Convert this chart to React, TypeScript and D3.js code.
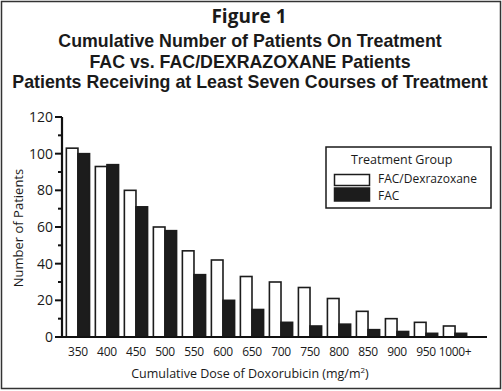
import React, { useEffect, useRef } from 'react';
import * as d3 from 'd3';

// dosis kumulatif (mg/m2)
const doses = ['350', '400', '450', '500', '550', '600', '650', '700', '750', '800', '850', '900', '950', '1000+'];
const facDex = [103, 93, 80, 60, 47, 42, 33, 30, 27, 21, 14, 10, 8, 6];
const fac = [100, 94, 71, 58, 34, 20, 15, 8, 6, 7, 4, 3, 2, 2];
const series = ['FAC/Dexrazoxane', 'FAC'];
const yTicks = [0, 20, 40, 60, 80, 100, 120];
const titleLines = [
    'Cumulative Number of Patients On Treatment',
    'FAC vs. FAC/DEXRAZOXANE Patients',
    'Patients Receiving at Least Seven Courses of Treatment',
];

const FONT = "'Open Sans', 'Noto Sans', sans-serif";
const TITLE_FONT = "'Liberation Sans', Arial, sans-serif";

export default function App() {
    const svgRef = useRef<SVGSVGElement>(null);

    useEffect(() => {
        const width = 502;
        const height = 391;
        const svg = d3.select(svgRef.current);
        svg.html('');

        // bingkai luar
        svg.append('rect')
            .attr('x', 1.5).attr('y', 1.5)
            .attr('width', width - 3).attr('height', height - 4)
            .attr('fill', '#fff')
            .attr('stroke', '#333')
            .attr('stroke-width', 1.5);

        // judul
        svg.append('text')
            .attr('x', 249).attr('y', 23)
            .attr('text-anchor', 'middle')
            .style('font-family', FONT).style('font-weight', 'bold').style('font-size', '19px')
            .attr('fill', '#1a1a1a')
            .text('Figure 1');
        svg.selectAll('text.title')
            .data(titleLines)
            .join('text')
            .attr('class', 'title')
            .attr('x', 250)
            .attr('y', (d, i) => 47 + i * 20.5)
            .attr('text-anchor', 'middle')
            .style('font-family', TITLE_FONT).style('font-weight', 'bold').style('font-size', '17.8px')
            .attr('fill', '#1a1a1a')
            .text(d => d);

        const x0 = d3.scaleBand<string>()
            .domain(doses)
            .range([62, 471])
            .paddingInner(0.2)
            .paddingOuter(0.15);
        const x1 = d3.scaleBand<string>()
            .domain(series)
            .range([0, x0.bandwidth()]);
        const y = d3.scaleLinear().domain([0, 120]).range([337, 117]);

        const rows = doses.map((d, i) => ({ dose: d, values: [facDex[i], fac[i]] }));

        // batang
        const groups = svg.append('g')
            .selectAll('g')
            .data(rows)
            .join('g')
            .attr('transform', d => `translate(${x0(d.dose)},0)`);
        groups.selectAll('rect')
            .data(d => d.values.map((v, k) => ({ key: series[k], v })))
            .join('rect')
            .attr('x', d => x1(d.key)!)
            .attr('y', d => y(d.v))
            .attr('width', x1.bandwidth())
            .attr('height', d => y(0) - y(d.v))
            .attr('fill', d => (d.key === 'FAC' ? '#1c1c1c' : '#fff'))
            .attr('stroke', '#1c1c1c')
            .attr('stroke-width', 1.6);

        // sumbu Y
        const yAxis = svg.append('g').attr('transform', 'translate(62,0)');
        yAxis.append('line')
            .attr('x1', 0).attr('x2', 0)
            .attr('y1', y(0)).attr('y2', y(120))
            .attr('stroke', '#111').attr('stroke-width', 2.2);
        yAxis.selectAll('line.minor')
            .data(d3.range(0, 121, 10))
            .join('line')
            .attr('class', 'minor')
            .attr('x1', d => (d % 20 === 0 ? -7 : -4)).attr('x2', 0)
            .attr('y1', d => y(d)).attr('y2', d => y(d))
            .attr('stroke', '#111').attr('stroke-width', 2);
        yAxis.selectAll('text')
            .data(yTicks)
            .join('text')
            .attr('x', -9)
            .attr('y', d => y(d))
            .attr('dy', '0.35em')
            .attr('text-anchor', 'end')
            .style('font-family', FONT).style('font-size', '14px')
            .attr('fill', '#1a1a1a')
            .text(d => d);

        // sumbu X
        svg.append('line')
            .attr('x1', 57).attr('x2', 487)
            .attr('y1', y(0)).attr('y2', y(0))
            .attr('stroke', '#111').attr('stroke-width', 2.2);
        svg.append('g')
            .selectAll('text')
            .data(doses)
            .join('text')
            .attr('x', d => x0(d)! + x0.bandwidth() / 2)
            .attr('y', 356)
            .attr('text-anchor', 'middle')
            .style('font-family', FONT).style('font-size', '12px')
            .style('letter-spacing', '-0.3px')
            .attr('fill', '#1a1a1a')
            .text(d => d);

        // label sumbu
        const xLabel = svg.append('text')
            .attr('x', 250).attr('y', 378)
            .attr('text-anchor', 'middle')
            .style('font-family', FONT).style('font-size', '12.5px')
            .attr('fill', '#1a1a1a');
        xLabel.append('tspan').text('Cumulative Dose of Doxorubicin (mg/m');
        xLabel.append('tspan').attr('dy', -5).style('font-size', '8px').text('2');
        xLabel.append('tspan').attr('dy', 5).text(')');

        svg.append('text')
            .attr('transform', 'translate(23,228) rotate(-90)')
            .attr('text-anchor', 'middle')
            .style('font-family', FONT).style('font-size', '13px')
            .attr('fill', '#1a1a1a')
            .text('Number of Patients');

        // legenda
        const lg = svg.append('g');
        lg.append('rect')
            .attr('x', 326).attr('y', 147)
            .attr('width', 165).attr('height', 61)
            .attr('fill', '#fff')
            .attr('stroke', '#1a1a1a').attr('stroke-width', 1.5);
        lg.append('text')
            .attr('x', 351).attr('y', 164)
            .style('font-family', FONT).style('font-size', '12.5px')
            .attr('fill', '#1a1a1a')
            .text('Treatment Group');
        series.forEach((s, i) => {
            lg.append('rect')
                .attr('x', 334.5).attr('y', i === 0 ? 174.5 : 188)
                .attr('width', 35).attr('height', i === 0 ? 11 : 13)
                .attr('fill', i === 1 ? '#1c1c1c' : '#fff')
                .attr('stroke', '#1c1c1c').attr('stroke-width', 1.5);
            lg.append('text')
                .attr('x', 378).attr('y', 183 + i * 17)
                .style('font-family', FONT).style('font-size', '12px')
                .attr('fill', '#1a1a1a')
                .text(s);
        });
    }, []);

    return (
        <svg ref={svgRef} width={502} height={391}
            style={{ position: 'absolute', left: 0, top: 0, display: 'block' }}></svg>
    );
}
